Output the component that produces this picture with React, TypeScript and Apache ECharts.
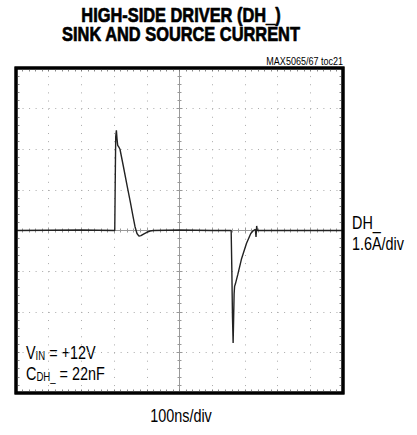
import React, { useEffect, useRef } from "react";
import * as echarts from "echarts";

// time in ns relative to the centre of the screen (100 ns/div), current in A (1.6 A/div)
const timeNs = [
  -500, -300, -198, -196, -195, -193, -191, -189, -186, -182, -172, -160, -150, -142, -136, -130, -124, -118,
  -110, -100, -90, -80, 0, 100, 158, 160, 162, 164, 165.5, 167, 168.5, 171, 178, 190, 205, 218, 226, 232, 234,
  236, 238, 300, 500,
];
const currentA = [
  0, 0.02, 0, 2.6, 3.7, 3.95, 3.6, 3.35, 3.3, 3.2, 2.55, 1.75, 1.1, 0.55, 0.15, -0.12, -0.22, -0.2,
  -0.14, -0.07, -0.02, 0, 0.02, 0, 0, -1.5, -3.4, -4.43, -3.5, -2.5, -2.2, -2.1, -1.75, -1.1, -0.5, -0.12, 0, 0.04,
  -0.25, 0.18, 0, 0, 0,
];

const xTicks = { min: -500, max: 500, interval: 100 };
const yTicks = { min: -6.4, max: 6.4, interval: 1.6 };

const titleLines = ["HIGH-SIDE DRIVER (DH_)", "SINK AND SOURCE CURRENT"];
const noteText = "MAX5065/67 toc21";
const channelLabel = ["DH_", "1.6A/div"];
const xLabel = "100ns/div";

export default function App() {
  const ref = useRef<HTMLDivElement>(null);
  useEffect(() => {
    if (!ref.current) return;
    const chart = echarts.init(ref.current, null, { renderer: "svg" });
    const centerCol = "#999";
    const mkAxis = (
      ticks: any,
      position: string,
      inside: boolean,
      onZero: boolean,
      split: any,
      center: boolean
    ) => ({
      type: "value",
      ...ticks,
      position,
      axisLine: {
        show: center,
        onZero,
        onZeroAxisIndex: 0,
        lineStyle: { color: centerCol, width: 1 },
      },
      axisTick: {
        show: true,
        inside,
        length: center ? 3 : 3.5,
        lineStyle: { color: center ? centerCol : "#777", width: 1 },
      },
      minorTick: {
        show: true,
        splitNumber: 5,
        length: center ? 2 : 3.5,
        lineStyle: { color: center ? centerCol : "#888", width: 1 },
      },
      axisLabel: { show: false },
      splitLine: split ? { show: true, lineStyle: { color: "#aaa", width: 1, type: split } } : { show: false },
    });
    const data = timeNs.map((t, i) => [t, currentA[i]]);
    const font = '"Liberation Sans", Arial, sans-serif';
    const mainFont = `18px ${font}`;
    const sx = 0.8;
    chart.setOption({
      animation: false,
      grid: {
        left: 16,
        top: 68,
        width: 327,
        height: 325,
        show: true,
        borderColor: "#000",
        borderWidth: 3,
      },
      xAxis: [
        mkAxis(xTicks, "bottom", true, false, [1, 7.13], false),
        mkAxis(xTicks, "top", true, false, null, false),
        mkAxis(xTicks, "bottom", false, true, null, true),
        mkAxis(xTicks, "bottom", true, true, null, true),
      ],
      yAxis: [
        mkAxis(yTicks, "left", true, false, [1, 5.54], false),
        mkAxis(yTicks, "right", true, false, null, false),
        mkAxis(yTicks, "left", false, true, null, true),
        mkAxis(yTicks, "left", true, true, null, true),
      ],
      series: [
        {
          type: "line",
          data,
          xAxisIndex: 0,
          yAxisIndex: 0,
          showSymbol: false,
          symbol: "none",
          lineStyle: { color: "#222", width: 1.4 },
          z: 10,
        },
      ],
      graphic: [
        {
          type: "rect",
          shape: { x: 16, y: 68, width: 327, height: 325 },
          style: { fill: "transparent", stroke: "#000", lineWidth: 3 },
          z: 100,
        },
        {
          type: "text",
          x: 181,
          y: 15,
          scaleX: 0.82,
          style: {
            text: titleLines[0],
            font: `bold 20px ${font}`,
            fill: "#000",
            stroke: "#000",
            lineWidth: 0.7,
            textAlign: "center",
            textVerticalAlign: "middle",
          },
        },
        {
          type: "text",
          x: 181,
          y: 34,
          scaleX: 0.82,
          style: {
            text: titleLines[1],
            font: `bold 20px ${font}`,
            fill: "#000",
            stroke: "#000",
            lineWidth: 0.7,
            textAlign: "center",
            textVerticalAlign: "middle",
          },
        },
        {
          type: "text",
          x: 343,
          y: 61,
          scaleX: 0.82,
          style: { text: noteText, font: `11px ${font}`, fill: "#000", textAlign: "right", textVerticalAlign: "middle" },
        },
        {
          type: "text",
          x: 352,
          y: 222,
          scaleX: sx,
          style: { text: channelLabel[0], font: mainFont, fill: "#000", textAlign: "left", textVerticalAlign: "middle" },
        },
        {
          type: "text",
          x: 352,
          y: 243,
          scaleX: sx,
          style: { text: channelLabel[1], font: mainFont, fill: "#000", textAlign: "left", textVerticalAlign: "middle" },
        },
        {
          type: "text",
          x: 181,
          y: 415,
          scaleX: sx,
          style: { text: xLabel, font: mainFont, fill: "#000", textAlign: "center", textVerticalAlign: "middle" },
        },
        {
          type: "text",
          x: 26,
          y: 352,
          scaleX: sx,
          style: {
            text: "{m|V}{s|IN}{m| = +12V}",
            textVerticalAlign: "middle",
            rich: {
              m: { font: mainFont, fill: "#000" },
              s: { font: `12px ${font}`, fill: "#000", padding: [7, 0, 0, 0] },
            },
          },
        },
        {
          type: "text",
          x: 26,
          y: 373,
          scaleX: sx,
          style: {
            text: "{m|C}{s|DH_}{m| = 22nF}",
            textVerticalAlign: "middle",
            rich: {
              m: { font: mainFont, fill: "#000" },
              s: { font: `12px ${font}`, fill: "#000", padding: [7, 0, 0, 0] },
            },
          },
        },
      ],
    });
    return () => chart.dispose();
  }, []);
  return <div ref={ref} style={{ position: "absolute", left: 0, top: 0, width: 417, height: 435 }} />;
}
